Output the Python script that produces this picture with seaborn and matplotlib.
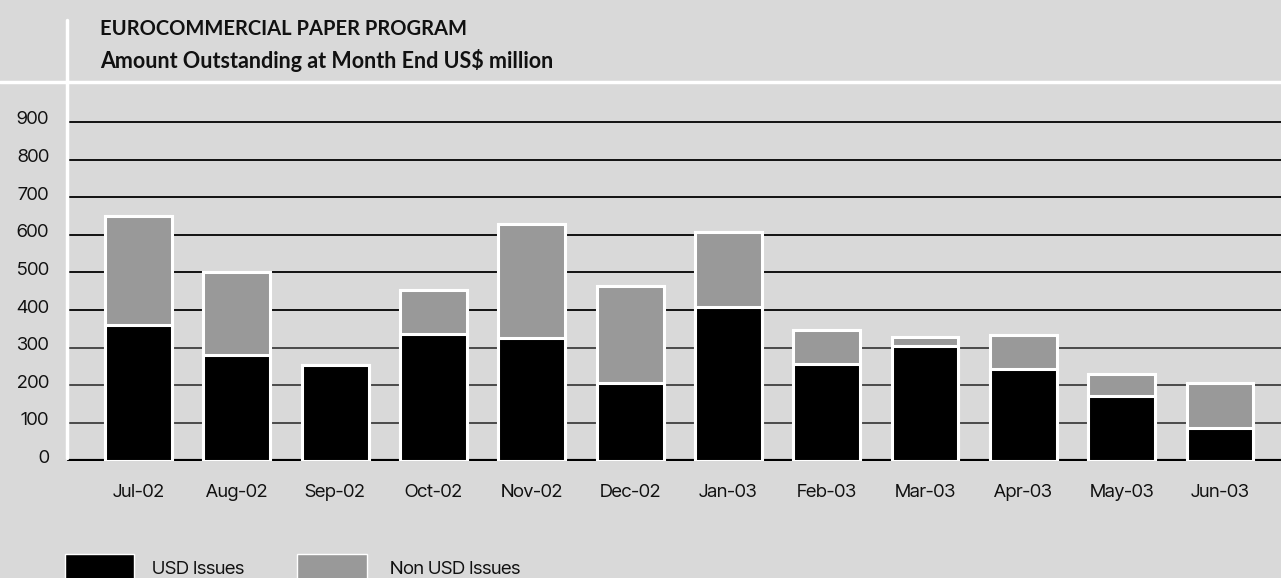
import matplotlib
matplotlib.use("Agg")
import matplotlib.pyplot as plt
import matplotlib.transforms as mtransforms
from matplotlib.patches import Rectangle
from matplotlib.lines import Line2D
import pandas as pd
import seaborn as sns

# Month-end amounts outstanding, US$ million
months = ["Jul-02", "Aug-02", "Sep-02", "Oct-02", "Nov-02", "Dec-02",
          "Jan-03", "Feb-03", "Mar-03", "Apr-03", "May-03", "Jun-03"]
usd_issues = [360, 280, 255, 335, 325, 205, 408, 257, 304, 244, 171, 86]
non_usd_issues = [290, 220, 0, 117, 303, 258, 200, 91, 24, 90, 60, 121]
y_ticks = [0, 100, 200, 300, 400, 500, 600, 700, 800, 900]

title_line1 = "EUROCOMMERCIAL PAPER PROGRAM"
title_line2 = "Amount Outstanding at Month End US$ million"
legend_labels = ["USD Issues", "Non USD Issues"]

BG = "#d9d9d9"
BLACK = "#000000"
GREY = "#999999"
INK = "#111111"

sns.set_theme(style="white")
plt.rcParams["font.family"] = ["Inter Tight", "Lato", "DejaVu Sans"]

df = pd.DataFrame({
    "month": months,
    "usd": usd_issues,
    "total": [u + n for u, n in zip(usd_issues, non_usd_issues)],
})

W, H = 1281, 578
fig = plt.figure(figsize=(W / 100, H / 100), dpi=100, facecolor=BG)
ax = fig.add_axes([67 / W, (H - 460.5) / H, 1 - 67 / W, (460.5 - 82) / H])
ax.set_facecolor(BG)

# gridlines behind the bars
for v in y_ticks[1:]:
    ax.axhline(v, color="#111111" if v >= 400 else "#4a4a4a", lw=1.4, zorder=0)
ax.axhline(0, color=BLACK, lw=3, zorder=0.5)

# stacked bars: full total in grey, USD part overlaid in black
sns.barplot(data=df, x="month", y="total", color=GREY, width=0.68,
            edgecolor="white", linewidth=2.2, saturation=1, ax=ax, zorder=2)
sns.barplot(data=df, x="month", y="usd", color=BLACK, width=0.68,
            edgecolor="white", linewidth=2.2, saturation=1, ax=ax, zorder=3)

ax.set_xlim(-0.727, 11.62)
ax.set_ylim(0, 1006)
ax.set_yticks(y_ticks)
ax.set_yticklabels([str(v) for v in y_ticks], fontsize=13.5, color=INK)
ax.tick_params(axis="y", length=0, pad=13)
ax.tick_params(axis="x", length=0, pad=17, labelsize=13.5, labelcolor=INK)
ax.set_xlabel("")
ax.set_ylabel("")
for s in ax.spines.values():
    s.set_visible(False)
# lift y labels slightly above their gridlines
shift = mtransforms.ScaledTranslation(0, 4 / 100, fig.dpi_scale_trans)
for lbl in ax.get_yticklabels():
    lbl.set_transform(lbl.get_transform() + shift)

# white frame lines
fig.add_artist(Line2D([0, 1], [(H - 82) / H] * 2, color="white", lw=2.5,
                      transform=fig.transFigure))
fig.add_artist(Line2D([67 / W] * 2, [(H - 20) / H, (H - 458) / H], color="white",
                      lw=2.5, transform=fig.transFigure))

# titles
title_font = ["Lato", "DejaVu Sans"]
fig.text(100 / W, 1 - 29 / H, title_line1, fontsize=14.5, fontweight="bold",
         family=title_font, color=INK, va="center", ha="left")
fig.text(100 / W, 1 - 61 / H, title_line2, fontsize=15.5, fontweight="bold",
         family=title_font, color=INK, va="center", ha="left")

# legend
for x0, x1, col, tx, lab in [(65, 134, BLACK, 152, legend_labels[0]),
                             (297, 367, GREY, 390, legend_labels[1])]:
    fig.add_artist(Rectangle((x0 / W, -0.02), (x1 - x0) / W, (H - 554) / H + 0.02,
                             facecolor=col, edgecolor="white", lw=1,
                             transform=fig.transFigure))
    fig.text(tx / W, 1 - 569 / H, lab, fontsize=13.5, color=INK,
             va="center", ha="left")

fig.savefig("out.png", dpi=100, facecolor=BG)
